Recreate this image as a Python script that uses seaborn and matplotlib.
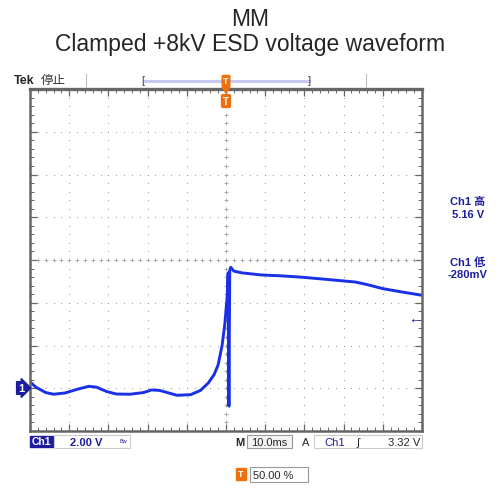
import numpy as np
import pandas as pd
import matplotlib
matplotlib.use('Agg')
from matplotlib import pyplot as plt
from matplotlib.patches import Rectangle, Polygon
import seaborn as sns

# waveform: time in ms, voltage in V
time_ms = [-50, -48.5, -46, -44, -41, -38, -35, -33, -30.5, -28, -24.5, -21, -19, -17,
           -15, -12.5, -9, -6.5, -4.5, -3, -2, -1, -0.3, 0.3, 0.55, 0.75, 0.95, 1.2,
           2, 4, 9, 14, 19, 24, 30, 33, 36, 40, 45, 50]
volts = [0.3, 0.05, -0.2, -0.28, -0.22, -0.05, 0.09, 0.05, -0.15, -0.27, -0.28, -0.2,
         -0.08, -0.1, -0.2, -0.33, -0.3, -0.1, 0.25, 0.65, 1.1, 2.0, 3.0, 4.3, 5.4,
         -0.84, 5.5, 5.66, 5.48, 5.4, 5.3, 5.26, 5.2, 5.12, 5.02, 4.97, 4.85, 4.66,
         4.5, 4.35]

title_lines = ['MM', 'Clamped +8kV ESD voltage waveform']
ch1_high = '5.16 V'
ch1_low = '-280mV'
volts_div = '2.00 V'
time_div = '10.0ms'
trig_level = 3.32
trig_text = '3.32 V'
trig_pos = '50.00 %'

W, H = 500, 489
def fx(x):
    return x / W
def fy(y):
    return 1 - y / H

sns.set_style('white')
plt.rcParams['font.family'] = ['Liberation Sans', 'Noto Sans CJK JP', 'DejaVu Sans']

navy = '#1c1c9c'
orange = '#f07010'
trace = '#1a30e6'
grey = '#8a8a8a'

fig = plt.figure(figsize=(W / 100, H / 100), dpi=100)
ax = fig.add_axes([fx(30), fy(432), 392 / W, 342 / H])

df = pd.DataFrame({'t': time_ms, 'v': volts})
sns.lineplot(data=df, x='t', y='v', ax=ax, color=trace, linewidth=2.1,
             sort=False, estimator=None)

ax.set_xlim(-50, 50)
ax.set_ylim(-2, 14)
ax.set_xlabel('')
ax.set_ylabel('')

# graticule dots
for gx in np.arange(-40, 41, 10):
    if gx == 0:
        continue
    yy = np.arange(-2, 14.01, 0.4)
    ax.scatter(np.full_like(yy, gx), yy, s=0.6, color=grey, linewidths=0, zorder=1)
for gy in np.arange(0, 12.1, 2):
    if gy == 6:
        continue
    xx = np.arange(-50, 50.01, 2)
    ax.scatter(xx, np.full_like(xx, gy), s=0.6, color=grey, linewidths=0, zorder=1)
# centre cross with small ticks
xx = np.arange(-50, 50.01, 2)
ax.scatter(xx, np.full_like(xx, 6.0), marker='+', s=9, color='#a0a0a0', linewidths=0.6, zorder=1)
yy = np.arange(-2, 14.01, 0.4)
ax.scatter(np.zeros_like(yy), yy, marker='+', s=9, color='#a0a0a0', linewidths=0.6, zorder=1)

ax.set_xticks(np.arange(-50, 51, 10))
ax.set_yticks(np.arange(-2, 14.1, 2))
ax.set_xticks(np.arange(-50, 50.1, 2), minor=True)
ax.set_yticks(np.arange(-2, 14.01, 0.4), minor=True)
ax.tick_params(which='both', direction='in', top=True, right=True, bottom=True, left=True,
               labelbottom=False, labelleft=False, color='#666666')
ax.tick_params(which='major', length=5, width=0.9)
ax.tick_params(which='minor', length=3, width=0.7)
for s in ax.spines.values():
    s.set_color('#666666')
    s.set_linewidth(1.8)
ax.spines['top'].set_linewidth(2.4)

# trigger level arrow
ax.annotate('←', xy=(48.2, trig_level), color=navy, fontsize=10, ha='center',
            va='center', fontweight='bold', annotation_clip=False)

# title
fig.text(0.5, fy(19), title_lines[0], ha='center', va='center', fontsize=16.5)
fig.text(0.5, fy(44), title_lines[1], ha='center', va='center', fontsize=16.5)

# top status bar
fig.text(fx(14), fy(81), 'Tek', fontsize=9, fontweight='bold', va='center')
fig.text(fx(41), fy(81), '停止', fontsize=9, va='center', color='#333333')
fig.add_artist(plt.Line2D([fx(86), fx(86)], [fy(75), fy(88)], color='#bbbbbb', lw=0.8))
fig.add_artist(plt.Line2D([fx(366), fx(366)], [fy(75), fy(88)], color='#bbbbbb', lw=0.8))
fig.add_artist(plt.Line2D([fx(144), fx(309)], [fy(82), fy(82)], color='#c8c8f0', lw=2.2))
fig.text(fx(143), fy(81), '[', fontsize=8, va='center', ha='center', color='#444444')
fig.text(fx(309), fy(81), ']', fontsize=8, va='center', ha='center', color='#444444')
# trigger position markers
fig.text(fx(226), fy(82), 'T', fontsize=6.5, fontweight='bold', color='white', ha='center',
         va='center', bbox=dict(boxstyle='round,pad=0.12', fc=orange, ec=orange))
fig.add_artist(Polygon([[fx(222), fy(88)], [fx(230), fy(88)], [fx(226), fy(94)]],
                       closed=True, color=orange, transform=fig.transFigure))
fig.text(fx(226), fy(102), 'T', fontsize=7, fontweight='bold', color='white', ha='center',
         va='center', bbox=dict(boxstyle='round,pad=0.15', fc=orange, ec=orange))

# channel ground marker
fig.text(fx(21), fy(389), '1', fontsize=8, fontweight='bold', color='white', ha='center',
         va='center', bbox=dict(boxstyle='rarrow,pad=0.12', fc=navy, ec=navy))

# right side readouts
fig.text(fx(468), fy(202), 'Ch1 高', fontsize=8, fontweight='bold', color=navy,
         ha='center', va='center')
fig.text(fx(468), fy(215), ch1_high, fontsize=8, fontweight='bold', color=navy,
         ha='center', va='center')
fig.text(fx(468), fy(262), 'Ch1 低', fontsize=8, fontweight='bold', color=navy,
         ha='center', va='center')
fig.text(fx(468), fy(275), ch1_low, fontsize=8, fontweight='bold', color=navy,
         ha='center', va='center')

# bottom readouts
fig.add_artist(Rectangle((fx(30), fy(448)), 23 / W, 11 / H, color=navy,
                         transform=fig.transFigure))
fig.text(fx(41.5), fy(442.5), 'Ch1', fontsize=7.5, fontweight='bold', color='white',
         ha='center', va='center')
fig.add_artist(Rectangle((fx(54), fy(449)), 76 / W, 13 / H, fc='white', ec='#cccccc',
                         lw=0.8, transform=fig.transFigure))
fig.text(fx(86), fy(443), volts_div, fontsize=8, fontweight='bold', color=navy,
         ha='center', va='center')
fig.text(fx(123), fy(442), 'Bw', fontsize=4, color=navy, ha='center', va='center')

fig.text(fx(240), fy(443), 'M', fontsize=8, fontweight='bold', ha='center', va='center')
fig.add_artist(Rectangle((fx(247), fy(449)), 45 / W, 13 / H, fc='#f4f4f4', ec='#999999',
                         lw=0.8, transform=fig.transFigure))
fig.text(fx(269.5), fy(443), time_div, fontsize=8, ha='center', va='center')
fig.text(fx(306), fy(443), 'A', fontsize=8, ha='center', va='center')
fig.add_artist(Rectangle((fx(314), fy(449)), 108 / W, 13 / H, fc='white', ec='#cccccc',
                         lw=0.8, transform=fig.transFigure))
fig.text(fx(335), fy(443), 'Ch1', fontsize=8, color=navy, ha='center', va='center')
fig.text(fx(358), fy(443), '∫', fontsize=8, ha='center', va='center')
fig.text(fx(420), fy(443), trig_text, fontsize=8, ha='right', va='center')

fig.add_artist(Rectangle((fx(236), fy(481)), 10 / W, 12 / H, color=orange,
                         transform=fig.transFigure))
fig.text(fx(241), fy(475), 'T', fontsize=6.5, fontweight='bold', color='white',
         ha='center', va='center')
fig.add_artist(Rectangle((fx(250), fy(483)), 58 / W, 15 / H, fc='white', ec='#999999',
                         lw=0.8, transform=fig.transFigure))
fig.text(fx(253), fy(476), trig_pos, fontsize=8, ha='left', va='center')

fig.savefig('out.png', dpi=100)
